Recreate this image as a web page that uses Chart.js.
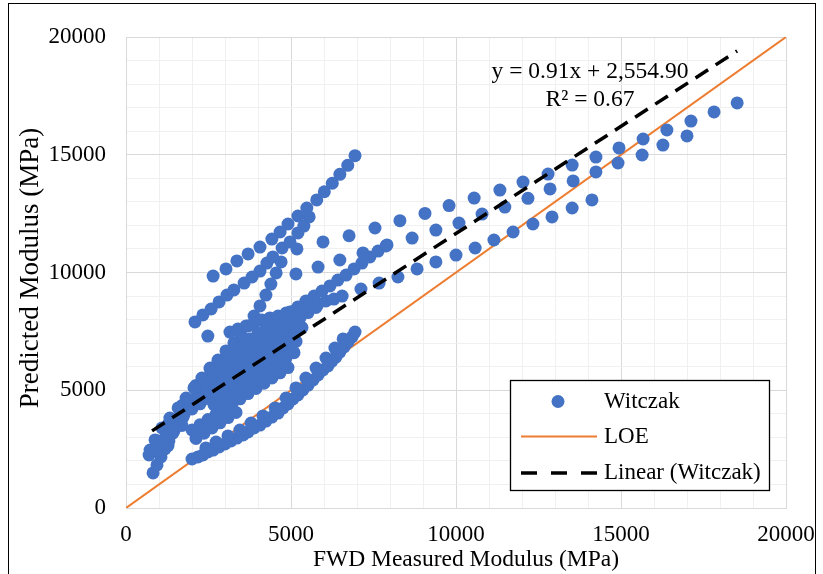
<!DOCTYPE html>
<html>
<head>
<meta charset="utf-8">
<script src="https://cdn.jsdelivr.net/npm/chart.js@4.4.0/dist/chart.umd.min.js"></script>
<style>
html, body { margin: 0; padding: 0; background: #fff; }
</style>
</head>
<body>
<canvas id="grafico" width="823" height="574"></canvas>
<script>
// valores (MPa)
const lineaAX = [2640, 3030, 3360, 3700, 4060, 4420, 4670, 4910, 5210, 5480, 5780, 6010, 6250, 6480, 6720, 6940];
const lineaAY = [9850, 10150, 10490, 10790, 11080, 11420, 11720, 12060, 12400, 12740, 13080, 13430, 13790, 14170, 14550, 14960];

const lineaBX = [2090, 2330, 2580, 2820, 3060, 3270, 3580, 3820, 4060, 4270, 4450, 4730, 4970, 5210, 5390, 5550];
const lineaBY = [7900, 8200, 8450, 8750, 9040, 9260, 9550, 9810, 10060, 10400, 10660, 11040, 11300, 11680, 11970, 12360];

const fila1X = [5180, 5970, 6760, 7545, 8300, 9060, 9790, 10550, 11330, 12030, 12790, 13520, 14240, 14940, 15670, 16390, 17120, 17820, 18520];
const fila1Y = [11000, 11300, 11560, 11890, 12200, 12510, 12840, 13160, 13500, 13840, 14180, 14560, 14900, 15290, 15670, 16050, 16430, 16820, 17200];

const fila2X = [5150, 5820, 6480, 7180, 7910, 8670, 9390, 10090, 10790, 11480, 12180, 12850, 13550, 14240, 14910, 15640, 16270, 17000];
const fila2Y = [9940, 10230, 10530, 10830, 11170, 11460, 11800, 12100, 12480, 12780, 13150, 13550, 13890, 14270, 14650, 14990, 15410, 15800];

const fila3X = [6550, 7120, 7670, 8240, 8820, 9390, 10000, 10580, 11150, 11730, 12330, 12910, 13520, 14120];
const fila3Y = [9000, 9300, 9550, 9810, 10150, 10450, 10740, 11040, 11380, 11720, 12060, 12360, 12740, 13080];

const fila3izqX = [3150, 3390, 3640, 3880, 4120, 4360, 4610, 4850, 5090, 5330, 5580, 5820, 6060, 6300];
const fila3izqY = [7470, 7600, 7730, 7860, 7980, 8070, 8150, 8280, 8370, 8490, 8580, 8660, 8790, 8870];

const bandaCX = [730, 880, 1090, 1330, 1580, 1820, 2060, 2300, 2550, 2790, 3030, 3270, 3480, 3700, 3880, 4060, 4240, 4390, 4550, 4700];
const bandaCY = [2460, 2890, 3400, 3820, 4250, 4670, 5100, 5520, 5900, 6280, 6670, 7010, 7350, 7730, 8150, 8580, 9040, 9510, 9980, 10450];

const bandaEX = [820, 940, 1060, 1180, 1300, 1420, 1580, 1730, 1880, 2060, 2240, 2420, 2610, 2790, 2970, 3150];
const bandaEY = [1490, 1830, 2170, 2510, 2850, 3180, 3520, 3860, 4200, 4540, 4880, 5220, 5560, 5900, 6240, 6580];

const bandaMX = [2550, 2790, 3030, 3270, 3520, 3760, 4000, 4240, 4480, 4730, 4970, 5210, 5450, 5700, 5940, 6180, 6420, 6670, 6910, 7150, 7390, 7640, 7880];
const bandaMY = [5940, 6200, 6410, 6670, 6920, 7180, 7430, 7640, 7860, 8070, 8320, 8540, 8790, 9000, 9210, 9430, 9680, 9890, 10150, 10400, 10660, 10910, 11130];

// nube densa bajo la tendencia
const nubeAX = [2121, 2364, 2606, 2848, 3091, 3333, 3576, 3818, 4061, 4303, 4545, 4788, 5030, 5273, 5515, 5758];
const nubeAY = [5206, 5427, 5648, 5868, 6089, 6310, 6531, 6752, 6972, 7193, 7414, 7635, 7856, 8076, 8297, 8518];

const bandaOX = [1697, 1939, 2182, 2424, 2667, 2909, 3152, 3394, 3636, 3879, 4121, 4364, 4606, 4848, 5091, 5333];
const bandaOY = [4352, 4573, 4794, 5015, 5236, 5456, 5677, 5898, 6119, 6340, 6561, 6781, 7002, 7223, 7444, 7665];

const bandaNX = [1273, 1515, 1758, 2000, 2242, 2485, 2727, 2970, 3212, 3455, 3697, 3939, 4182, 4424, 4667, 4909, 5152];
const bandaNY = [3541, 3762, 3983, 4204, 4425, 4645, 4866, 5087, 5308, 5529, 5749, 5970, 6191, 6412, 6633, 6853, 7074];

const nubeBX = [970, 1212, 1455, 1697, 2667, 2909, 3152, 3394, 3636, 3879, 4121, 4364, 4606, 4848, 5091];
const nubeBY = [2841, 3062, 3282, 3503, 4386, 4607, 4828, 5049, 5270, 5490, 5711, 5932, 6153, 6374, 6594];

const bandaQX = [1030, 1273, 2000, 2242, 2485, 2727, 2970, 3212, 3455, 3697, 3939, 4182, 4424, 4667, 4909];
const bandaQY = [2429, 2650, 3312, 3533, 3754, 3975, 4195, 4416, 4637, 4858, 5079, 5299, 5520, 5741, 5962];

const bandaPX = [2121, 2364, 2606, 2848, 3091, 3333];
const bandaPY = [2955, 3176, 3397, 3618, 3839, 4059];

const bandaDX = [2000, 2180, 2330, 2480, 2640, 2820, 3000, 3180, 3360, 3550, 3700, 3880, 4060, 4240, 4420, 4610, 4760, 4910, 5060, 5210, 5360, 5520, 5670, 5820, 5970, 6120, 6240, 6360, 6480, 6610, 6730, 6850, 6940];
const bandaDY = [2080, 2170, 2250, 2380, 2460, 2590, 2720, 2850, 2970, 3100, 3230, 3400, 3520, 3690, 3860, 4030, 4250, 4420, 4630, 4800, 5010, 5220, 5440, 5650, 5860, 6030, 6240, 6410, 6620, 6840, 7050, 7260, 7470];

const bandaD2X = [2420, 2730, 3090, 3450, 3790, 4150, 4520, 4850, 5150, 5450, 5760, 6060, 6330, 6580];
const bandaD2Y = [2550, 2800, 3060, 3310, 3610, 3910, 4250, 4670, 5100, 5520, 5940, 6370, 6790, 7180];

const sueltosX = [2480, 700];
const sueltosY = [7300, 2250];

// linea de tendencia y = 0.91x + 2554.90
const pendiente = 0.91;
const intercepto = 2554.90;
const tendenciaX = [790, 18520];

const ejeMin = 0;
const ejeMax = 20000;

function juntar(xs, ys) {
    return xs.map((x, i) => ({ x: x, y: ys[i] }));
}

const puntos = [].concat(
    juntar(bandaDX, bandaDY),
    juntar(bandaD2X, bandaD2Y),
    juntar(bandaEX, bandaEY),
    juntar(bandaPX, bandaPY),
    juntar(bandaQX, bandaQY),
    juntar(nubeBX, nubeBY),
    juntar(bandaNX, bandaNY),
    juntar(bandaOX, bandaOY),
    juntar(nubeAX, nubeAY),
    juntar(bandaMX, bandaMY),
    juntar(bandaCX, bandaCY),
    juntar(lineaBX, lineaBY),
    juntar(lineaAX, lineaAY),
    juntar(fila3izqX, fila3izqY),
    juntar(fila3X, fila3Y),
    juntar(fila2X, fila2Y),
    juntar(fila1X, fila1Y),
    juntar(sueltosX, sueltosY)
);

const azul = '#4472C4';
const naranja = '#ED7D31';
const fuente = 'Liberation Serif, Times New Roman, serif';

// marco exterior, titulos, ecuacion y leyenda
const extras = {
    id: 'extras',
    beforeDraw(chart) {
        const ctx = chart.ctx;
        ctx.save();
        ctx.fillStyle = '#fff';
        ctx.fillRect(0, 0, chart.width, chart.height);
        ctx.restore();
    },
    afterDraw(chart) {
        const ctx = chart.ctx;
        ctx.save();
        ctx.strokeStyle = '#000';
        ctx.lineWidth = 1;
        ctx.strokeRect(8.5, 3.5, 807, 600);

        // titulos de ejes
        ctx.fillStyle = '#000';
        ctx.textAlign = 'center';
        ctx.textBaseline = 'middle';
        ctx.font = '23.5px ' + fuente;
        ctx.fillText('FWD Measured Modulus (MPa)', 466, 560);
        ctx.save();
        ctx.translate(31, 268);
        ctx.rotate(-Math.PI / 2);
        ctx.font = '27px ' + fuente;
        ctx.fillText('Predicted Modulus (MPa)', 0, 0);
        ctx.restore();

        // ecuacion
        ctx.font = '23.5px ' + fuente;
        ctx.fillText('y = 0.91x + 2,554.90', 590, 72);
        ctx.fillText('R² = 0.67', 590, 100);

        // leyenda
        ctx.fillStyle = '#fff';
        ctx.fillRect(510, 380, 260, 111);
        ctx.strokeStyle = '#000';
        ctx.lineWidth = 1.3;
        ctx.strokeRect(510.5, 380.5, 259, 110);

        ctx.fillStyle = azul;
        ctx.beginPath();
        ctx.arc(558, 401.5, 6.5, 0, Math.PI * 2);
        ctx.fill();

        ctx.strokeStyle = naranja;
        ctx.lineWidth = 2;
        ctx.beginPath();
        ctx.moveTo(521, 436.5);
        ctx.lineTo(597, 436.5);
        ctx.stroke();

        ctx.strokeStyle = '#000';
        ctx.lineWidth = 3.5;
        ctx.setLineDash([16, 14]);
        ctx.beginPath();
        ctx.moveTo(521, 473);
        ctx.lineTo(597, 473);
        ctx.stroke();
        ctx.setLineDash([]);

        ctx.fillStyle = '#000';
        ctx.font = '23px ' + fuente;
        ctx.textAlign = 'left';
        ctx.fillText('Witczak', 604, 401.5);
        ctx.fillText('LOE', 604, 436.5);
        ctx.fillText('Linear (Witczak)', 604, 473);
        ctx.restore();
    }
};

const ctx = document.getElementById('grafico').getContext('2d');
const grafico = new Chart(ctx, {
    type: 'scatter',
    data: {
        datasets: [
            {
                label: 'Linear (Witczak)',
                type: 'line',
                data: tendenciaX.map(x => ({ x: x, y: pendiente * x + intercepto })),
                borderColor: '#000',
                borderWidth: 3.5,
                borderDash: [15, 9],
                pointRadius: 0,
                fill: false,
                order: 0
            },
            {
                label: 'Witczak',
                data: puntos,
                backgroundColor: azul,
                borderColor: azul,
                borderWidth: 0,
                pointRadius: 6.5,
                order: 1
            },
            {
                label: 'LOE',
                type: 'line',
                data: [{ x: ejeMin, y: ejeMin }, { x: ejeMax, y: ejeMax }],
                borderColor: naranja,
                borderWidth: 2,
                pointRadius: 0,
                fill: false,
                order: 2
            }
        ]
    },
    options: {
        responsive: false,
        animation: false,
        devicePixelRatio: 1,
        layout: { padding: { left: 10, right: 37, top: 37, bottom: 0 } },
        plugins: {
            legend: { display: false },
            tooltip: { enabled: false }
        },
        scales: {
            x: {
                type: 'linear',
                min: ejeMin,
                max: ejeMax,
                afterFit: function(scale) {
                    scale.height = 66;
                    scale.paddingLeft = 0;
                    scale.paddingRight = 0;
                },
                ticks: {
                    stepSize: 1000,
                    autoSkip: false,
                    maxRotation: 0,
                    padding: 13,
                    color: '#000',
                    font: { family: fuente, size: 23 },
                    callback: v => (v % 5000 === 0 ? v : '')
                },
                grid: {
                    drawTicks: false,
                    color: c => (c.tick && c.tick.value % 5000 === 0 ? '#d9d9d9' : '#f0f0f0')
                },
                border: { color: '#d9d9d9' }
            },
            y: {
                type: 'linear',
                min: ejeMin,
                max: ejeMax,
                afterFit: function(scale) {
                    scale.width = 116;
                    scale.paddingTop = 0;
                    scale.paddingBottom = 0;
                },
                ticks: {
                    stepSize: 1000,
                    autoSkip: false,
                    padding: 20,
                    color: '#000',
                    font: { family: fuente, size: 23 },
                    callback: v => (v % 5000 === 0 ? v : '')
                },
                grid: {
                    drawTicks: false,
                    color: c => (c.tick && c.tick.value % 5000 === 0 ? '#d9d9d9' : '#f0f0f0')
                },
                border: { color: '#d9d9d9' }
            }
        }
    },
    plugins: [extras]
});
</script>
</body>
</html>
